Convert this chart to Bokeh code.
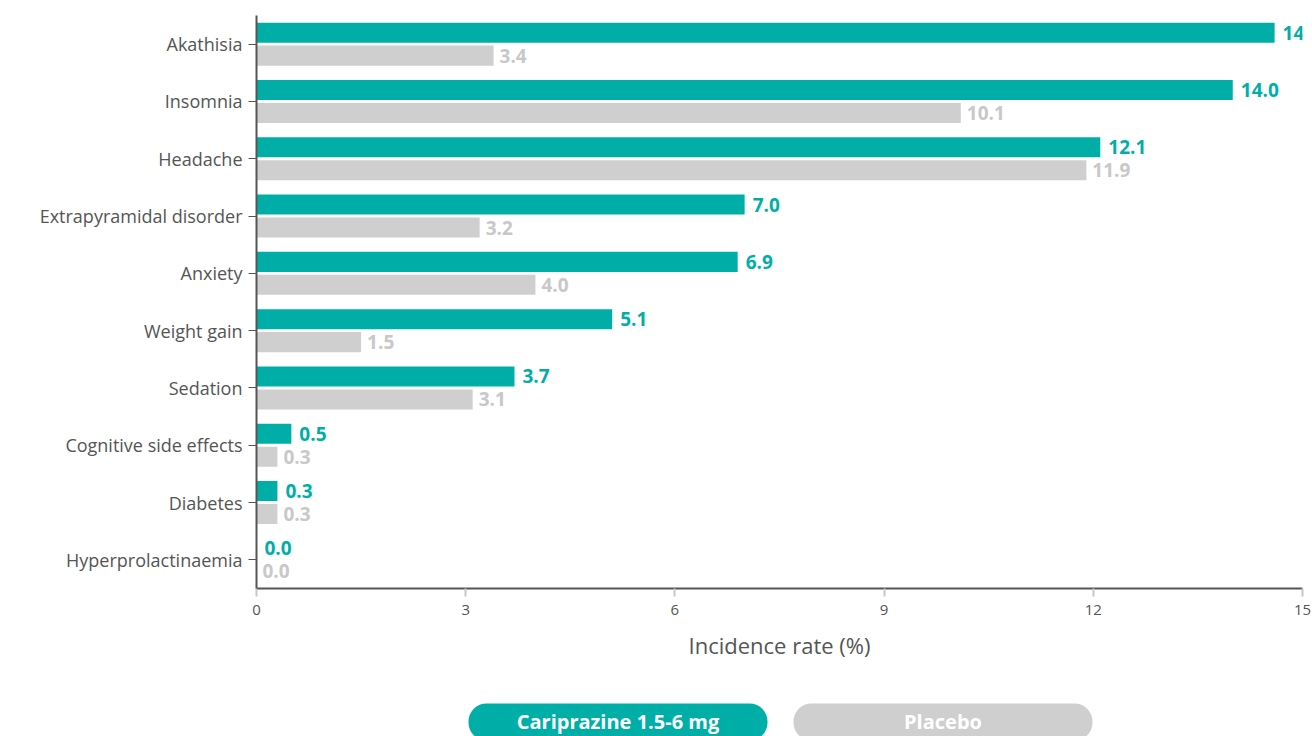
from bokeh.plotting import figure
from bokeh.models import ColumnDataSource, FactorRange, Range1d, FixedTicker, LabelSet, BoxAnnotation, Label
from bokeh.core.properties import value
from bokeh.transform import dodge
from bokeh.layouts import column
from bokeh.embed import file_html
from bokeh.resources import INLINE

categories = ["Akathisia", "Insomnia", "Headache", "Extrapyramidal disorder", "Anxiety",
              "Weight gain", "Sedation", "Cognitive side effects", "Diabetes", "Hyperprolactinaemia"]
cariprazine = [14.6, 14.0, 12.1, 7.0, 6.9, 5.1, 3.7, 0.5, 0.3, 0.0]
placebo = [3.4, 10.1, 11.9, 3.2, 4.0, 1.5, 3.1, 0.3, 0.3, 0.0]
x_ticks = [0, 3, 6, 9, 12, 15]
series_names = ["Cariprazine 1.5-6 mg", "Placebo"]

TEAL = "#00aea8"
GREY = "#cfcfcf"
GREY_TXT = "#c8c8c8"
DARK = "#555555"
FONT = "Open Sans"

src = ColumnDataSource(dict(
    cat=categories,
    car=cariprazine,
    pla=placebo,
    car_txt=[f"{v:.1f}" for v in cariprazine],
    pla_txt=[f"{v:.1f}" for v in placebo],
))

p = figure(width=1312, height=690, output_backend="svg", toolbar_location=None,
           y_range=FactorRange(factors=categories[::-1], range_padding=0),
           x_range=Range1d(0, 15))
p.min_border_left = 256
p.min_border_right = 10
p.min_border_top = 15
p.min_border_bottom = 102
p.outline_line_color = None
p.xgrid.visible = False
p.ygrid.visible = False

p.hbar(y=dodge("cat", 0.2, range=p.y_range), right="car", left=0, height=0.35,
       source=src, fill_color=TEAL, line_color=None)
p.hbar(y=dodge("cat", -0.2, range=p.y_range), right="pla", left=0, height=0.35,
       source=src, fill_color=GREY, line_color=None)

lab_car = LabelSet(x="car", y=dodge("cat", 0.2, range=p.y_range), text="car_txt", source=src,
                   x_offset=8, text_baseline="middle", text_font=value(FONT),
                   text_font_style="bold", text_font_size="19px", text_color=TEAL)
lab_pla = LabelSet(x="pla", y=dodge("cat", -0.2, range=p.y_range), text="pla_txt", source=src,
                   x_offset=6, text_baseline="middle", text_font=value(FONT),
                   text_font_style="bold", text_font_size="19px", text_color=GREY_TXT)
p.add_layout(lab_car)
p.add_layout(lab_pla)

xa = p.xaxis[0]
xa.ticker = FixedTicker(ticks=x_ticks)
xa.axis_label = "Incidence rate (%)"
xa.axis_label_text_font = FONT
xa.axis_label_text_font_style = "normal"
xa.axis_label_text_font_size = "22px"
xa.axis_label_text_color = DARK
xa.axis_label_standoff = 12
xa.major_label_text_font = FONT
xa.major_label_text_font_size = "15px"
xa.major_label_text_color = DARK
xa.major_label_standoff = 8
xa.axis_line_color = DARK
xa.axis_line_width = 2
xa.major_tick_line_color = "#c8c8c8"
xa.major_tick_line_width = 2
xa.major_tick_out = 8
xa.major_tick_in = 0
xa.minor_tick_line_color = None

ya = p.yaxis[0]
ya.major_label_text_font = FONT
ya.major_label_text_font_size = "18px"
ya.major_label_text_color = DARK
ya.major_label_standoff = 6
ya.axis_line_color = DARK
ya.axis_line_width = 2
ya.major_tick_line_color = DARK
ya.major_tick_out = 8
ya.major_tick_in = 0

# Legend pills (frame aligned with main plot frame: screen x 256..1302)
lg = figure(width=1312, height=46, output_backend="svg", toolbar_location=None,
            x_range=Range1d(256, 1302), y_range=Range1d(0, 46))
lg.axis.visible = False
lg.xgrid.visible = False
lg.ygrid.visible = False
lg.outline_line_color = None
lg.min_border_left = 256
lg.min_border_right = 10
lg.min_border_top = 0
lg.min_border_bottom = 0

pill_colors = [TEAL, GREY]
pill_left = [468, 793]
for name, col, left in zip(series_names, pill_colors, pill_left):
    lg.add_layout(BoxAnnotation(left=left, right=left + 299, bottom=-4, top=33,
                                fill_color=col, fill_alpha=1.0, line_color=None,
                                border_radius=18))
    lg.add_layout(Label(x=left + 149.5, y=15, text=name, text_align="center",
                        text_baseline="middle", text_font=FONT, text_font_style="bold",
                        text_font_size="20px", text_color="white"))

layout = column(p, lg, spacing=0)
open("out.html", "w").write(file_html(layout, INLINE))
